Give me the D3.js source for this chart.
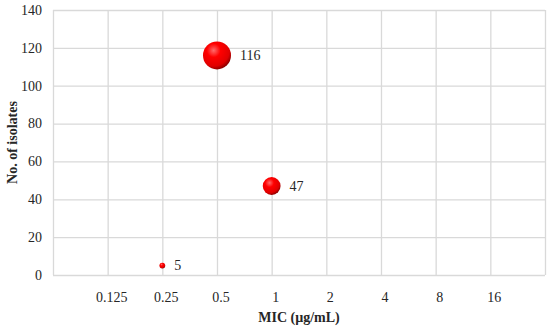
<!DOCTYPE html>
<html>
<head>
<meta charset="utf-8">
<script src="https://cdn.jsdelivr.net/npm/d3@7"></script>
<style>
body { margin: 0; background: #fff; }
svg text { font-family: "Liberation Serif", "DejaVu Serif", serif; fill: #262626; }
</style>
</head>
<body>
<svg id="chart" width="550" height="335"></svg>
<script>
// x categories (MIC values) and the bubbles
var micLabels = ['0.125', '0.25', '0.5', '1', '2', '4', '8', '16'];
var bubbleMic = ['0.25', '0.5', '1'];
var bubbleCounts = [5, 116, 47];
var yTicks = [0, 20, 40, 60, 80, 100, 120, 140];

(function() {
    var svg = d3.select('#chart');
    var margin = {top: 10, right: 5, bottom: 60, left: 53};
    var width = +svg.attr('width') - margin.left - margin.right;
    var height = +svg.attr('height') - margin.top - margin.bottom;

    var g = svg.append('g')
        .attr('transform', 'translate(' + margin.left + ',' + margin.top + ')');

    // categories sit at 1..8 on a 0..9 axis
    var x = d3.scaleLinear().domain([0, micLabels.length + 1]).range([0, width]);
    var y = d3.scaleLinear().domain([0, 140]).range([height, 0]);
    var r = d3.scaleSqrt().domain([0, 116]).range([0, 14]);

    var defs = svg.append('defs');
    var grad = defs.append('radialGradient')
        .attr('id', 'ball')
        .attr('cx', '38%').attr('cy', '32%').attr('r', '70%');
    grad.append('stop').attr('offset', '0%').attr('stop-color', '#ff6a6a');
    grad.append('stop').attr('offset', '35%').attr('stop-color', '#ff0000');
    grad.append('stop').attr('offset', '80%').attr('stop-color', '#e00000');
    grad.append('stop').attr('offset', '100%').attr('stop-color', '#8a0000');

    // horizontal gridlines
    g.append('g')
        .attr('class', 'y grid')
        .call(d3.axisLeft(y).tickValues(yTicks).tickSize(-width).tickFormat(''))
        .call(function(s) { s.select('.domain').remove(); })
        .selectAll('line')
        .attr('stroke', '#d9d9d9')
        .attr('stroke-width', 1.3);

    // vertical gridlines
    g.append('g')
        .attr('class', 'x grid')
        .attr('transform', 'translate(0,' + height + ')')
        .call(d3.axisBottom(x).ticks(micLabels.length + 1).tickSize(-height).tickFormat(''))
        .call(function(s) { s.select('.domain').remove(); })
        .selectAll('line')
        .attr('stroke', '#d9d9d9')
        .attr('stroke-width', 1.3);

    // y tick labels
    g.selectAll('.ylab')
        .data(yTicks)
        .enter().append('text')
        .attr('class', 'ylab')
        .attr('x', -11)
        .attr('y', function(d) { return y(d); })
        .attr('dy', '0.35em')
        .attr('text-anchor', 'end')
        .style('font-size', '14px')
        .text(function(d) { return d; });

    // x tick labels
    g.selectAll('.xlab')
        .data(micLabels)
        .enter().append('text')
        .attr('class', 'xlab')
        .attr('x', function(d, i) { return x(i + 1) + 4; })
        .attr('y', height + 22)
        .attr('dy', '0.35em')
        .attr('text-anchor', 'middle')
        .style('font-size', '14px')
        .text(function(d) { return d; });

    var data = bubbleMic.map(function(m, i) {
        return {mic: m, n: bubbleCounts[i]};
    });
    var xPos = function(d) { return x(micLabels.indexOf(d.mic) + 1); };

    g.selectAll('.bubble')
        .data(data)
        .enter().append('circle')
        .attr('class', 'bubble')
        .attr('cx', xPos)
        .attr('cy', function(d) { return y(d.n); })
        .attr('r', function(d) { return r(d.n); })
        .attr('fill', 'url(#ball)');

    g.selectAll('.blab')
        .data(data)
        .enter().append('text')
        .attr('class', 'blab')
        .attr('x', function(d) { return xPos(d) + r(d.n) + 9; })
        .attr('y', function(d) { return y(d.n); })
        .attr('dy', '0.35em')
        .style('font-size', '14px')
        .text(function(d) { return d.n; });

    // axis titles
    svg.append('text')
        .attr('x', margin.left + width / 2)
        .attr('y', 317)
        .attr('dy', '0.35em')
        .attr('text-anchor', 'middle')
        .style('font-size', '14px')
        .style('font-weight', 'bold')
        .text('MIC (\u00b5g/mL)');

    svg.append('text')
        .attr('transform', 'translate(12,' + (margin.top + height / 2) + ') rotate(-90)')
        .attr('dy', '0.35em')
        .attr('text-anchor', 'middle')
        .style('font-size', '14px')
        .style('font-weight', 'bold')
        .text('No. of isolates');
})();
</script>
</body>
</html>
